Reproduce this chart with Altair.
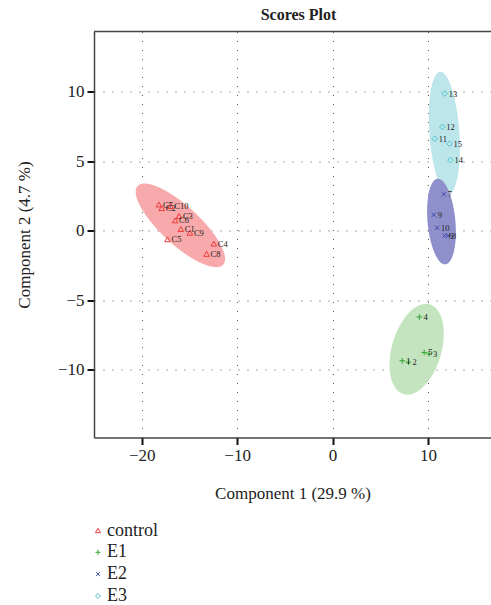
import numpy as np
import pandas as pd
import altair as alt

# ---------------- data ----------------
groups = ["control", "E1", "E2", "E3"]

control_labels = ["C1", "C2", "C3", "C4", "C5", "C6", "C7", "C8", "C9", "C10"]
control_x = [-15.9, -17.9, -16.1, -12.45, -17.3, -16.5, -18.2, -13.2, -14.95, -17.0]
control_y = [0.12, 1.62, 1.05, -0.93, -0.62, 0.74, 1.88, -1.67, -0.15, 1.77]

e1_labels = ["1", "2", "3", "4", "5"]
e1_x = [7.3, 7.95, 10.1, 9.1, 9.6]
e1_y = [-9.35, -9.45, -8.85, -6.2, -8.75]

e2_labels = ["6", "7", "8", "9", "10"]
e2_x = [11.75, 11.65, 12.1, 10.6, 10.95]
e2_y = [-0.35, 2.62, -0.35, 1.14, 0.21]

e3_labels = ["11", "12", "13", "14", "15"]
e3_x = [10.7, 11.5, 11.75, 12.35, 12.25]
e3_y = [6.6, 7.45, 9.85, 5.07, 6.25]

x_ticks = [-20, -10, 0, 10]
y_ticks = [-10, -5, 0, 5, 10]

marker_colors = ["#F03A3A", "#2FA52F", "#3E4BA8", "#4CC3CF"]
fill_colors = ["#F7A9AB", "#C4E3BF", "#8F8FCC", "#BDE6EB"]
shapes = ["triangle-up", "M-1,0L1,0M0,-1L0,1",
          "M-0.75,-0.75L0.75,0.75M-0.75,0.75L0.75,-0.75", "diamond"]

# ---------------- tables ----------------
sets = {
    "control": (control_labels, control_x, control_y),
    "E1": (e1_labels, e1_x, e1_y),
    "E2": (e2_labels, e2_x, e2_y),
    "E3": (e3_labels, e3_x, e3_y),
}
rows = []
for g, (labs, xs, ys) in sets.items():
    for l, xv, yv in zip(labs, xs, ys):
        rows.append({"group": g, "label": l, "x": xv, "y": yv})
pts = pd.DataFrame(rows)

# 95% confidence ellipses computed from each group's points
c = -2.0 * np.log(0.05)
theta = np.linspace(0, np.pi, 181)
ell_rows = []
for g, (labs, xs, ys) in sets.items():
    arr = np.array([xs, ys])
    mx, my = arr.mean(axis=1)
    S = np.cov(arr)
    sxx, syy, sxy = S[0, 0], S[1, 1], S[0, 1]
    det = sxx * syy - sxy ** 2
    a = np.sqrt(c * sxx)
    dx = a * np.cos(theta)
    half = np.sqrt(det * c * sxx) * np.sin(theta) / sxx
    base = sxy * dx / sxx
    for xv, up, lo in zip(mx + dx, my + base + half, my + base - half):
        ell_rows.append({"group": g, "x": xv, "y": up, "y2": lo})
ell = pd.DataFrame(ell_rows)

# ---------------- chart ----------------
FONT = "Liberation Serif"
W, H = 397, 406
xscale = alt.Scale(domain=[-25, 16.6], nice=False, zero=False)
yscale = alt.Scale(domain=[-14.86, 14.31], nice=False, zero=False)

xaxis = alt.Axis(values=x_ticks, title="Component 1 (29.9 %)", grid=True,
                 titleY=61, titleBaseline="alphabetic")
yaxis = alt.Axis(values=y_ticks, title="Component 2 (4.7 %)", grid=True,
                 titleX=-65, titleY=203, titleBaseline="alphabetic", titleAngle=270)

X = alt.X("x:Q", scale=xscale, axis=xaxis)
Y = alt.Y("y:Q", scale=yscale, axis=yaxis)

layers = []
for g in ["control", "E1", "E3", "E2"]:
    fc = fill_colors[groups.index(g)]
    layers.append(
        alt.Chart(ell[ell.group == g]).mark_area(color=fc, opacity=1).encode(
            x=X, y=Y, y2="y2:Q")
    )

legend = alt.Legend(title=None, orient="none", legendX=-5, legendY=490,
                    direction="vertical", labelFont=FONT, labelFontSize=18,
                    labelColor="#222", symbolSize=26, symbolStrokeWidth=1,
                    labelOffset=0, rowPadding=3.8, padding=0)

points = alt.Chart(pts).mark_point(filled=False, size=32, strokeWidth=1, opacity=1).encode(
    x=X, y=Y,
    color=alt.Color("group:N", scale=alt.Scale(domain=groups, range=marker_colors), legend=legend),
    shape=alt.Shape("group:N", scale=alt.Scale(domain=groups, range=shapes), legend=legend),
)

labels = alt.Chart(pts).mark_text(align="left", baseline="middle", dx=4, fontSize=8.5,
                                  font=FONT, color="#222").encode(x=X, y=Y, text="label:N")

top_border = alt.Chart(pd.DataFrame({"a": [0]})).mark_rule(color="#444", strokeWidth=1.5).encode(
    x=alt.value(0), x2=alt.value(W), y=alt.value(0))

chart = alt.layer(*layers, points, labels, top_border).properties(
    width=W, height=H,
    title=alt.Title("Scores Plot", font=FONT, fontSize=16, fontWeight="bold",
                    anchor="middle", offset=8, dx=6, color="#222"),
    autosize=alt.AutoSizeParams(type="none"),
    padding={"left": 94, "top": 31.5, "right": 0, "bottom": 167.5},
).configure_view(stroke=None).configure_axis(
    labelFont=FONT, labelFontSize=17, labelColor="#222",
    titleFont=FONT, titleFontSize=17, titleFontWeight="normal", titleColor="#222",
    domainColor="#444", domainWidth=1.5, tickColor="#111", tickWidth=2, tickSize=7,
    labelPadding=3, gridColor="#555", gridDash=[1, 8], gridWidth=1,
).configure_legend(labelFont=FONT, labelFontSize=18, labelColor="#222")

chart.save("out.html", embed_options={"renderer": "svg", "actions": False})
